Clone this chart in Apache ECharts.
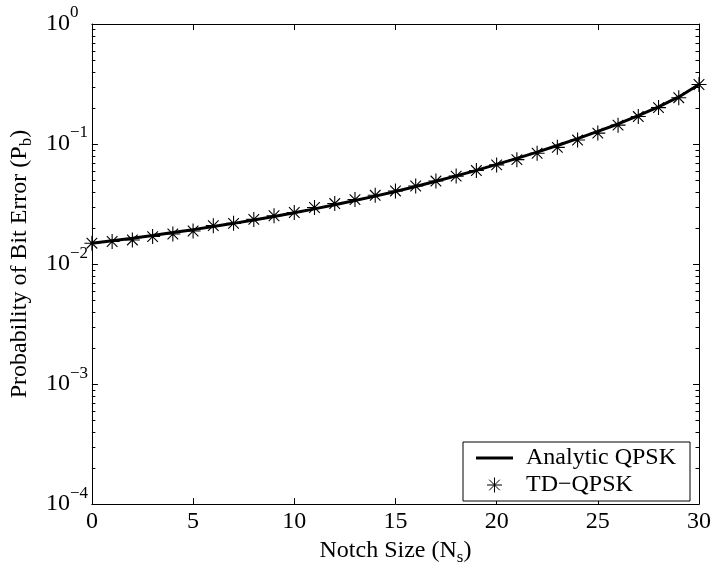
<!DOCTYPE html>
<html>
<head>
<meta charset="utf-8">
<script src="https://cdn.jsdelivr.net/npm/echarts@6/dist/echarts.min.js"></script>
<style>html,body{margin:0;padding:0;background:#fff}#c{width:714px;height:571px}</style>
</head>
<body>
<div id="c"></div>
<script>
// ---- data ----
var notchSize = [0,1,2,3,4,5,6,7,8,9,10,11,12,13,14,15,16,17,18,19,20,21,22,23,24,25,26,27,28,29,30];
var analyticQPSK = [0.01492,0.01564,0.01640,0.01730,0.01828,0.01935,0.02053,0.02183,0.02328,0.02492,
  0.02675,0.02882,0.03115,0.03380,0.03682,0.04027,0.04430,0.04891,0.05429,0.06038,
  0.06761,0.07589,0.08556,0.09727,0.1110,0.1273,0.1469,0.1721,0.2041,0.2469,0.3133];
var tdQPSK = [0.01492,0.01541,0.01588,0.01694,0.01779,0.01884,0.02089,0.02183,0.02355,0.02525,
  0.02690,0.02958,0.03192,0.03445,0.03739,0.04066,0.04471,0.04916,0.05406,0.06012,
  0.06703,0.07413,0.08375,0.09381,0.1079,0.1233,0.1436,0.1694,0.2011,0.2432,0.3133];
var xTicks = [0,5,10,15,20,25,30];
var yMinorTicks = [2e-4,3e-4,4e-4,5e-4,6e-4,7e-4,8e-4,9e-4,
  2e-3,3e-3,4e-3,5e-3,6e-3,7e-3,8e-3,9e-3,
  2e-2,3e-2,4e-2,5e-2,6e-2,7e-2,8e-2,9e-2,
  0.2,0.3,0.4,0.5,0.6,0.7,0.8,0.9];
var seriesNames = ['Analytic QPSK', 'TD\u2212QPSK'];
var xTitle = 'Notch Size (N{sub|s})';
var yTitle = 'Probability of Bit Error (P{sub|b})';

// ---- chart ----
var FF = '"Liberation Serif", "Times New Roman", serif';
var asterisk = 'path://M0,-10L0,10M-10,0L10,0M-7.07,-7.07L7.07,7.07M-7.07,7.07L7.07,-7.07';
var lineIcon = 'path://M0,0L37,0L37,3L0,3Z';
var chart = echarts.init(document.getElementById('c'), null, {renderer: 'canvas'});

function pow10Label(v) {
  var e = Math.round(Math.log10(v));
  var s = e < 0 ? '\u2212' + (-e) : '' + e;
  return '{b|10}{s|' + s + '}';
}
var axisLine = {show: true, onZero: false, lineStyle: {color: '#000', width: 1}};
var richLabel = {
  b: {fontSize: 24, fontFamily: FF, color: '#000', verticalAlign: 'middle'},
  s: {fontSize: 17, fontFamily: FF, color: '#000', verticalAlign: 'middle', padding: [0, 0, 22, 0]}
};
var richName = {
  sub: {fontSize: 17, fontFamily: FF, color: '#000', verticalAlign: 'middle', padding: [13, 0, 0, 0]}
};

var option = {
  animation: false,
  backgroundColor: '#fff',
  grid: {left: 85, top: 24, right: 15, bottom: 63, containLabel: false},
  xAxis: [{
    type: 'value', min: xTicks[0], max: xTicks[xTicks.length - 1], interval: 5,
    position: 'bottom',
    axisLine: axisLine,
    axisTick: {show: true, inside: true, length: 6, lineStyle: {color: '#000'}},
    axisLabel: {show: true, fontSize: 24, fontFamily: FF, color: '#000', margin: 6},
    splitLine: {show: false},
    name: xTitle, nameLocation: 'middle', nameGap: 28,
    nameTextStyle: {fontSize: 24, fontFamily: FF, color: '#000', rich: richName}
  }, {
    type: 'value', min: xTicks[0], max: xTicks[xTicks.length - 1], interval: 5,
    position: 'top',
    axisLine: axisLine,
    axisTick: {show: true, inside: true, length: 6, lineStyle: {color: '#000'}},
    axisLabel: {show: false},
    splitLine: {show: false}
  }],
  yAxis: [{
    type: 'log', logBase: 10, min: 1e-4, max: 1,
    position: 'left',
    axisLine: axisLine,
    axisTick: {show: true, inside: true, length: 6, lineStyle: {color: '#000'}},
    axisLabel: {show: true, align: 'left', margin: 46, formatter: pow10Label, rich: richLabel},
    splitLine: {show: false},
    name: yTitle, nameLocation: 'middle', nameGap: 46, nameRotate: 90,
    nameTextStyle: {fontSize: 24, fontFamily: FF, color: '#000', rich: richName}
  }, {
    type: 'log', logBase: 10, min: 1e-4, max: 1,
    position: 'right',
    axisLine: axisLine,
    axisTick: {show: true, inside: true, length: 6, lineStyle: {color: '#000'}},
    axisLabel: {show: false},
    splitLine: {show: false}
  }],
  legend: {
    left: 463, top: 442, orient: 'vertical',
    padding: [4, 14, 4, 13], itemGap: 3,
    itemWidth: 37, itemHeight: 15,
    backgroundColor: '#fff', borderColor: '#000', borderWidth: 1, borderRadius: 0,
    textStyle: {fontSize: 24, fontFamily: FF, color: '#000', padding: [0, 0, 0, 8]},
    data: [
      {name: seriesNames[0], icon: lineIcon, itemStyle: {color: '#000'}},
      {name: seriesNames[1], icon: asterisk,
       itemStyle: {color: 'transparent', borderColor: '#000', borderWidth: 1}}
    ],
    selectedMode: false
  },
  series: [{
    name: seriesNames[0], type: 'line',
    xAxisIndex: 0, yAxisIndex: 0,
    data: notchSize.map(function (x, i) { return [x, analyticQPSK[i]]; }),
    symbol: 'none', showSymbol: false, smooth: false,
    lineStyle: {color: '#000', width: 3},
    itemStyle: {color: '#000'},
    z: 3
  }, {
    name: seriesNames[1], type: 'scatter',
    xAxisIndex: 0, yAxisIndex: 0,
    data: notchSize.map(function (x, i) { return [x, tdQPSK[i]]; }),
    symbol: asterisk, symbolSize: 15, symbolKeepAspect: true,
    itemStyle: {color: 'transparent', borderColor: '#000', borderWidth: 1.1, opacity: 1},
    clip: false,
    z: 4
  }, {
    name: 'minorTicks', type: 'custom',
    xAxisIndex: 0, yAxisIndex: 0,
    silent: true, clip: false,
    data: yMinorTicks.map(function (v) { return [0, v]; }),
    renderItem: function (params, api) {
      var cs = params.coordSys;
      var p = api.coord([api.value(0), api.value(1)]);
      var y = Math.round(p[1]) + 0.5;
      return {
        type: 'group',
        children: [
          {type: 'line', shape: {x1: cs.x, y1: y, x2: cs.x + 3.5, y2: y}, style: {stroke: '#000', lineWidth: 1}},
          {type: 'line', shape: {x1: cs.x + cs.width - 3.5, y1: y, x2: cs.x + cs.width, y2: y}, style: {stroke: '#000', lineWidth: 1}}
        ]
      };
    },
    z: 2
  }]
};
chart.setOption(option);
</script>
</body>
</html>
